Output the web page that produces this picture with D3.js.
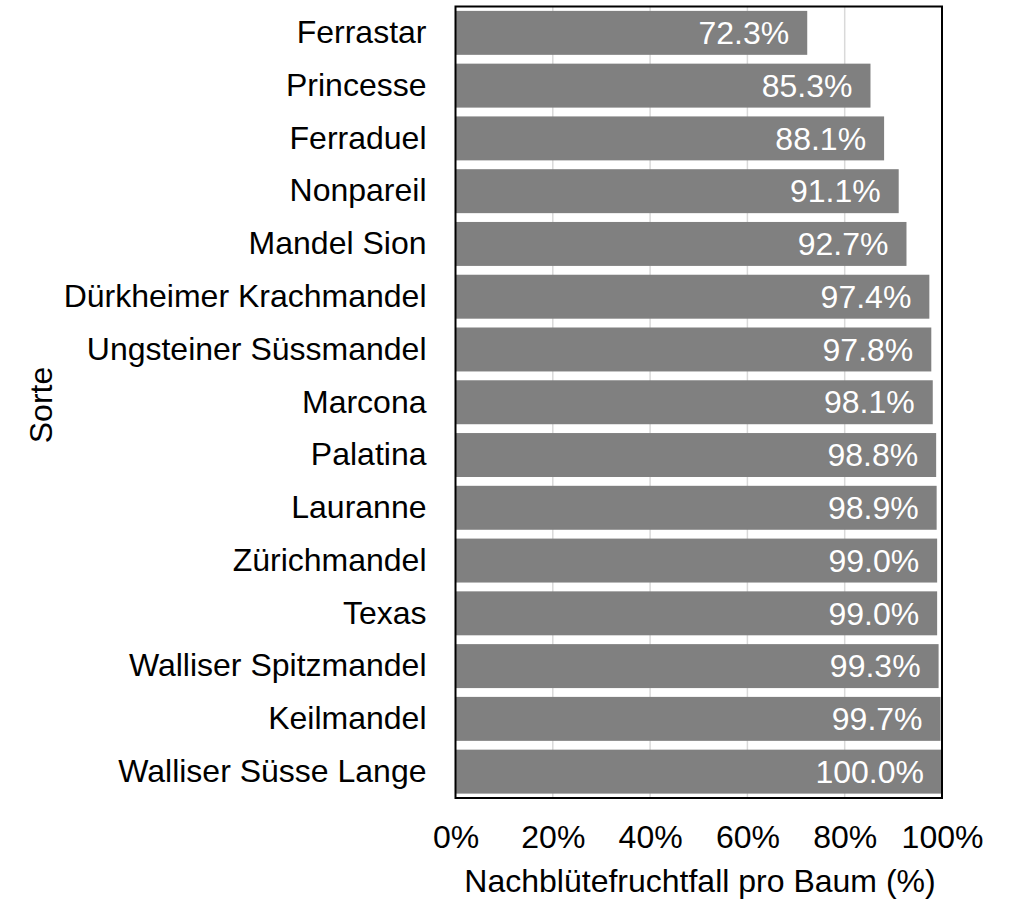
<!DOCTYPE html>
<html><head><meta charset="utf-8">
<script src="https://cdn.jsdelivr.net/npm/d3@7"></script>
<style>body{margin:0;background:#fff;} text{font-family:"Liberation Sans",Arial,sans-serif;}</style>
</head><body>
<svg id="chart" width="1010" height="900"></svg>
<script>
const categories = ["Ferrastar","Princesse","Ferraduel","Nonpareil","Mandel Sion","Dürkheimer Krachmandel","Ungsteiner Süssmandel","Marcona","Palatina","Lauranne","Zürichmandel","Texas","Walliser Spitzmandel","Keilmandel","Walliser Süsse Lange"];
const values = [72.3,85.3,88.1,91.1,92.7,97.4,97.8,98.1,98.8,98.9,99.0,99.0,99.3,99.7,100.0];
const xTicks = [0,20,40,60,80,100];

const FS = 32;
const svg = d3.select("#chart");
const L = 455.5, R = 942, T = 6.5, B = 798;
const x = d3.scaleLinear().domain([0,100]).range([L,R]);
const y = d3.scaleBand().domain(categories).range([T,B]).paddingInner(0.167).paddingOuter(0.083);

svg.append("g").selectAll("line").data(xTicks.slice(1,-1)).join("line")
  .attr("x1",d=>x(d)).attr("x2",d=>x(d)).attr("y1",T).attr("y2",B)
  .attr("stroke","#d9d9d9").attr("stroke-width",1.5);

svg.append("g").selectAll("rect").data(values).join("rect")
  .attr("x",x(0)).attr("y",(d,i)=>y(categories[i]))
  .attr("width",d=>x(d)-x(0)).attr("height",y.bandwidth())
  .attr("fill","#808080");

svg.append("g").selectAll("text").data(values).join("text")
  .attr("x",d=>x(d)-18).attr("y",(d,i)=>y(categories[i])+y.bandwidth()/2)
  .attr("dy","0.35em").attr("text-anchor","end").attr("fill","#fff")
  .attr("font-size",FS).text(d=>d.toFixed(1)+"%");

svg.append("rect").attr("x",L).attr("y",T).attr("width",R-L).attr("height",B-T)
  .attr("fill","none").attr("stroke","#000").attr("stroke-width",2);

const yAxis = d3.axisLeft(y).tickSize(0).tickPadding(29);
const gy = svg.append("g").attr("transform",`translate(${L},0)`).call(yAxis);
gy.select(".domain").remove();
gy.selectAll("text").attr("font-size",FS).attr("fill","#000").attr("font-family","Liberation Sans, Arial, sans-serif");

const xAxis = d3.axisBottom(x).tickValues(xTicks).tickSize(0).tickPadding(27).tickFormat(d=>d+"%");
const gx = svg.append("g").attr("transform",`translate(0,${B})`).call(xAxis);
gx.select(".domain").remove();
gx.selectAll("text").attr("font-size",FS).attr("fill","#000").attr("font-family","Liberation Sans, Arial, sans-serif");

svg.append("text").attr("x",700).attr("y",892).attr("text-anchor","middle").attr("font-size",FS).text("Nachblütefruchtfall pro Baum (%)");
svg.append("text").attr("transform","translate(52,405) rotate(-90)").attr("text-anchor","middle").attr("font-size",FS).text("Sorte");
</script>
</body></html>
